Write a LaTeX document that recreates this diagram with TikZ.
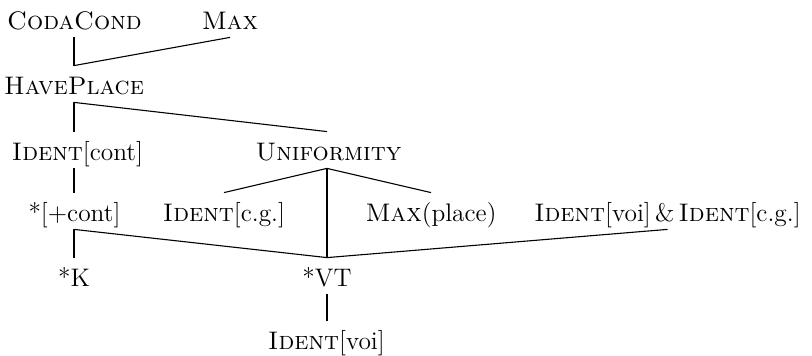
\documentclass[tikz,border=0pt]{standalone}
\begin{document}
\begin{tikzpicture}[x=0.5pt,y=-0.5pt,
  lab/.style={inner sep=0pt, text height=14.5pt, text depth=3.5pt, anchor=base, font=\fontsize{12.7}{15}\selectfont},
  edge/.style={line width=0.55pt}]
\useasboundingbox (0,0) rectangle (812,356);
\node[lab] (cc) at (74.5,30) {\textsc{CodaCond}};
\node[lab] (mx) at (230,30) {\textsc{Max}};
\node[lab] (hp) at (74,95) {\textsc{HavePlace}};
\node[lab] (ic) at (77.5,161) {\textsc{Ident}[cont]};
\node[lab] (un) at (328.5,161) {\textsc{Uniformity}};
\node[lab] (pc) at (74.5,222) {*[+cont]};
\node[lab] (icg) at (224,222) {\textsc{Ident}[c.g.]};
\node[lab] (mp) at (431,222) {\textsc{Max}(place)};
\node[lab] (ivcg) at (667.5,222) {\textsc{Ident}[voi]\,\&\,\textsc{Ident}[c.g.]};
\node[lab] (k) at (74,287) {*K};
\node[lab] (vt) at (327,287) {*VT};
\node[lab] (iv) at (326.5,350) {\textsc{Ident}[voi]};
\draw[edge] (hp.north |- cc.south) -- (hp.north);
\draw[edge] (mx.south) -- (hp.north);
\draw[edge] (hp.south) -- (ic.north -| hp.south);
\draw[edge] (hp.south) -- (un.north -| vt.north);
\draw[edge] (ic.south -| hp.south) -- (pc.north -| hp.south);
\draw[edge] (un.south -| vt.north) -- (icg.north);
\draw[edge] (un.south -| vt.north) -- (mp.north);
\draw[edge] (un.south -| vt.north) -- (vt.north);
\draw[edge] (pc.south -| hp.south) -- (k.north -| hp.south);
\draw[edge] (pc.south -| hp.south) -- (vt.north);
\draw[edge] (ivcg.south) -- (vt.north);
\draw[edge] (vt.south) -- (iv.north -| vt.south);
\end{tikzpicture}
\end{document}
